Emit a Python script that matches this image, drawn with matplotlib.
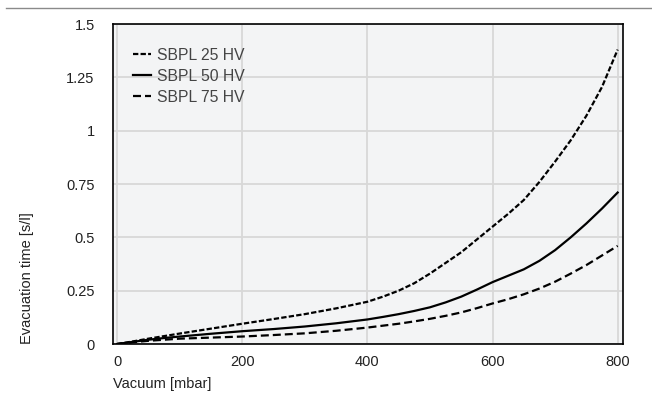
import matplotlib.pyplot as plt

plt.rcParams['font.family'] = ['Liberation Sans', 'DejaVu Sans']

vakuum = [0, 25, 50, 75, 100, 150, 200, 250, 300, 350, 400, 425, 450, 475, 500,
          525, 550, 575, 600, 625, 650, 675, 700, 725, 750, 775, 800]
hv25 = [0, 0.012, 0.025, 0.037, 0.049, 0.072, 0.095, 0.117, 0.14, 0.167, 0.198, 0.222, 0.25, 0.285, 0.33,
        0.38, 0.43, 0.49, 0.55, 0.61, 0.675, 0.76, 0.855, 0.955, 1.07, 1.205, 1.38]
hv50 = [0, 0.01, 0.02, 0.028, 0.035, 0.048, 0.06, 0.07, 0.082, 0.097, 0.115, 0.127, 0.14, 0.155, 0.172,
        0.195, 0.222, 0.255, 0.29, 0.32, 0.35, 0.39, 0.44, 0.5, 0.565, 0.635, 0.71]
hv75 = [0, 0.008, 0.015, 0.02, 0.025, 0.03, 0.035, 0.042, 0.05, 0.062, 0.077, 0.086, 0.095, 0.106, 0.118,
        0.132, 0.148, 0.168, 0.19, 0.21, 0.233, 0.26, 0.292, 0.33, 0.37, 0.415, 0.46]
etykiety = ['SBPL 25 HV', 'SBPL 50 HV', 'SBPL 75 HV']
x_ticks = [0, 200, 400, 600, 800]
y_ticks = [0, 0.25, 0.5, 0.75, 1, 1.25, 1.5]
y_labels = ['0', '0.25', '0.5', '0.75', '1', '1.25', '1.5']

fig = plt.figure(figsize=(6.52, 4.03), dpi=100)
ax = fig.add_axes([0.1729, 0.1464, 0.955 - 0.1729, 0.794])
ax.set_facecolor('#f3f4f5')

# linia u góry rysunku
fig.add_artist(plt.Line2D([0.009, 1.0], [0.981, 0.981], color='#8a8a8a', lw=1.0))

ax.plot(vakuum, hv25, color='black', lw=1.6, linestyle=(0, (2.4, 1.0)), label=etykiety[0])
ax.plot(vakuum, hv50, color='black', lw=1.6, linestyle='-', label=etykiety[1])
ax.plot(vakuum, hv75, color='black', lw=1.6, linestyle=(0, (3.6, 1.8)), label=etykiety[2])

ax.set_xlim(-7, 808)
ax.set_ylim(0, 1.5)
ax.set_xticks(x_ticks)
ax.set_yticks(y_ticks)
ax.set_yticklabels(y_labels)
ax.tick_params(length=0, labelsize=10.5, labelcolor='#222222')
ax.tick_params(axis='y', pad=13)
ax.tick_params(axis='x', pad=8)
ax.grid(True, color='#d8d8d8', linewidth=1.3)
ax.set_axisbelow(True)
for s in ax.spines.values():
    s.set_color('black')
    s.set_linewidth(1.2)

ax.set_xlabel('Vacuum [mbar]', loc='left', fontsize=10.5, color='#222222', labelpad=6)
ax.set_ylabel('Evacuation time [s/l]', loc='bottom', fontsize=10.5, color='#222222', labelpad=23)

ax.legend(loc='upper left', bbox_to_anchor=(0.012, 0.97), frameon=False, fontsize=11.3,
          handlelength=1.15, handletextpad=0.4, labelspacing=0.38, labelcolor='#444444')

fig.savefig('out.png', dpi=100)
